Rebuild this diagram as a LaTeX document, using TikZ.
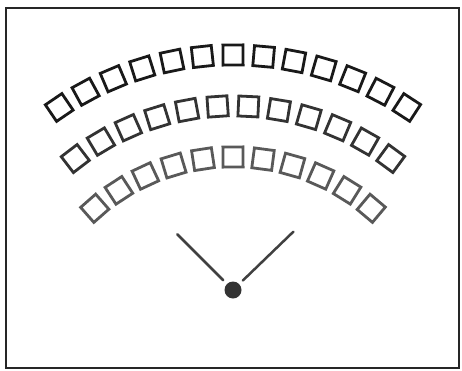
\documentclass[tikz,border=0pt]{standalone}
\usepackage{tikz}

\begin{document}
\begin{tikzpicture}[x=1pt,y=1pt,
    seat/.style={draw=black!80, line width=2.8pt, minimum size=20pt, inner sep=0pt},
    sight/.style={draw=black!75, line width=2.5pt, line cap=round}]
  \useasboundingbox (0,0) rectangle (462,370);

  % Frame
  \draw[line width=2pt, black!85] (6,2) rectangle (459,362);

  % Common centre of the rows
  \coordinate (ctr) at (233,1);

  % Rows of seats (radius, number of seats, angle step, shade)
  \foreach \row/\r/\n/\da/\shade in {1/314/13/5.6/90, 2/263/12/6.7/80, 3/212/11/8.14/65} {
    \foreach \i in {1,...,\n} {
      \pgfmathsetmacro{\a}{90-(\i-(\n+1)/2)*\da}
      \node[seat, draw=black!\shade, rotate=\a-89.4] (seat-\row-\i) at ([shift={(\a:\r)}]ctr) {};
    }
  }

  % Eye and lines of sight
  \node[circle, fill=black!80, minimum size=17pt, inner sep=0pt] (eye) at (233,80) {};
  \coordinate (sightL) at ([shift={(135:79)}]eye);
  \coordinate (sightR) at ([shift={(44:84)}]eye);
  \draw[sight, shorten <=5pt] (eye) -- (sightL);
  \draw[sight, shorten <=5pt] (eye) -- (sightR);
\end{tikzpicture}
\end{document}
